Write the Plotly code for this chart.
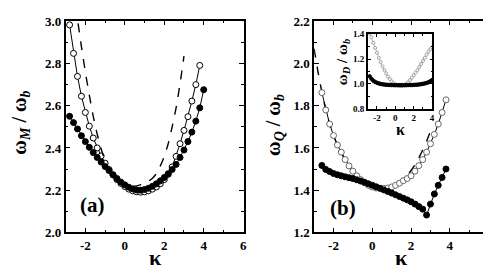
import plotly.graph_objects as go

# ---------------- data ----------------
kappa_a_open = [-2.8, -2.6, -2.4, -2.2, -2.0, -1.8, -1.6, -1.4, -1.2, -1.0, -0.8, -0.6, -0.4, -0.2,
                0.0, 0.2, 0.4, 0.6, 0.8, 1.0, 1.2, 1.4, 1.6, 1.8, 2.0, 2.2, 2.4, 2.6, 2.8, 3.0,
                3.2, 3.4, 3.6, 3.8]
omega_M_open = [2.983, 2.848, 2.739, 2.645, 2.568, 2.503, 2.447, 2.400, 2.362, 2.328, 2.298, 2.272,
                2.250, 2.232, 2.217, 2.205, 2.197, 2.192, 2.190, 2.192, 2.197, 2.205, 2.215, 2.230,
                2.250, 2.275, 2.310, 2.360, 2.420, 2.483, 2.548, 2.622, 2.700, 2.791]

kappa_a_filled = [-2.8, -2.6, -2.4, -2.2, -2.0, -1.8, -1.6, -1.4, -1.2, -1.0, -0.8, -0.6, -0.4, -0.2,
                  0.0, 0.2, 0.4, 0.6, 0.8, 1.0, 1.2, 1.4, 1.6, 1.8, 2.0, 2.2, 2.4, 2.6, 2.8, 3.0,
                  3.2, 3.4, 3.6, 3.8, 4.0]
omega_M_filled = [2.550, 2.520, 2.490, 2.458, 2.430, 2.403, 2.378, 2.355, 2.333, 2.312, 2.293, 2.273,
                  2.255, 2.238, 2.225, 2.214, 2.206, 2.201, 2.200, 2.203, 2.209, 2.218, 2.230, 2.244,
                  2.260, 2.278, 2.298, 2.322, 2.355, 2.390, 2.430, 2.475, 2.527, 2.590, 2.676]

kappa_a_dash = [-2.37, -2.2, -2.0, -1.8, -1.6, -1.4, -1.2, -1.0, -0.8, -0.6, -0.4, -0.2, 0.0, 0.2,
                0.4, 0.6, 0.8, 1.0, 1.2, 1.4, 1.6, 1.8, 2.0, 2.2, 2.4, 2.6, 2.8, 3.0]
omega_M_dash = [2.99, 2.88, 2.76, 2.65, 2.55, 2.465, 2.395, 2.34, 2.30, 2.27, 2.25, 2.235, 2.225, 2.22,
                2.218, 2.22, 2.226, 2.233, 2.242, 2.256, 2.278, 2.315, 2.36, 2.42, 2.50, 2.59, 2.705, 2.835]

kappa_b = [-2.6, -2.4, -2.2, -2.0, -1.8, -1.6, -1.4, -1.2, -1.0, -0.8, -0.6, -0.4, -0.2, 0.0,
           0.2, 0.4, 0.6, 0.8, 1.0, 1.2, 1.4, 1.6, 1.8, 2.0, 2.2, 2.4, 2.6, 2.8, 3.0, 3.2,
           3.4, 3.6, 3.8]
omega_Q_open = [1.862, 1.780, 1.713, 1.659, 1.614, 1.580, 1.545, 1.515, 1.490, 1.468, 1.450, 1.435,
                1.423, 1.415, 1.410, 1.408, 1.408, 1.410, 1.415, 1.423, 1.433, 1.445, 1.455, 1.468,
                1.490, 1.516, 1.545, 1.580, 1.620, 1.664, 1.713, 1.768, 1.828]
omega_Q_filled = [1.517, 1.498, 1.488, 1.479, 1.473, 1.468, 1.463, 1.459, 1.455, 1.449, 1.443, 1.437,
                  1.430, 1.423, 1.416, 1.409, 1.401, 1.394, 1.386, 1.378, 1.370, 1.362, 1.354, 1.345,
                  1.334, 1.322, 1.310, 1.282, 1.334, 1.382, 1.423, 1.460, 1.500]

kappa_b_dash = [-3.0, -2.8, -2.6, -2.4, -2.2, -2.0, -1.8, -1.6, -1.4, -1.2, -1.0, -0.8, -0.6, -0.4,
                -0.2, 0.0, 0.2, 0.4, 0.6, 0.8, 1.0, 1.2, 1.4, 1.6, 1.8, 2.0, 2.2, 2.4, 2.6, 2.8,
                3.0, 3.1]
omega_Q_dash = [2.07, 1.96, 1.865, 1.782, 1.714, 1.66, 1.614, 1.578, 1.543, 1.513, 1.487, 1.465,
                1.446, 1.431, 1.42, 1.412, 1.407, 1.405, 1.406, 1.41, 1.417, 1.425, 1.437, 1.452,
                1.47, 1.493, 1.52, 1.553, 1.59, 1.632, 1.68, 1.705]

kappa_inset = [-2.8, -2.6, -2.4, -2.2, -2.0, -1.8, -1.6, -1.4, -1.2, -1.0, -0.8, -0.6, -0.4, -0.2,
               0.0, 0.2, 0.4, 0.6, 0.8, 1.0, 1.2, 1.4, 1.6, 1.8, 2.0, 2.2, 2.4, 2.6, 2.8, 3.0,
               3.2, 3.4, 3.6, 3.8, 4.0]
omega_D_open = [1.405, 1.375, 1.33, 1.29, 1.25, 1.21, 1.175, 1.14, 1.11, 1.083, 1.058, 1.038,
                1.02, 1.006, 0.996, 0.99, 0.986, 0.984, 0.985, 0.99, 1.0, 1.013, 1.03, 1.05,
                1.07, 1.09, 1.11, 1.135, 1.16, 1.185, 1.21, 1.235, 1.26, 1.28, 1.295]
omega_D_filled = [1.06, 1.04, 1.025, 1.015, 1.008, 1.003, 0.999, 0.996, 0.994, 0.992, 0.991, 0.99,
                  0.99, 0.989, 0.989, 0.989, 0.989, 0.989, 0.989, 0.989, 0.989, 0.99, 0.99, 0.99,
                  0.991, 0.992, 0.993, 0.995, 0.997, 1.0, 1.003, 1.007, 1.012, 1.02, 1.03]

x_ticks = [-2, 0, 2, 4, 6]
inset_x_ticks = [-2, 0, 2, 4]

# ---------------- figure ----------------
FONT = "Liberation Serif"
fig = go.Figure()

def line_trace(x, y, xa, ya, dash=None, width=1.2):
    return go.Scatter(x=x, y=y, xaxis=xa, yaxis=ya, mode="lines",
                      line=dict(color="black", width=width, dash=dash, shape="spline", smoothing=0.6),
                      hoverinfo="skip")

def marker_trace(x, y, xa, ya, filled, size=6, edge="black", lw=1.0, lcolor="black"):
    return go.Scatter(x=x, y=y, xaxis=xa, yaxis=ya, mode="lines+markers",
                      line=dict(color=lcolor, width=lw),
                      marker=dict(symbol="circle", size=size,
                                  color="black" if filled else "white",
                                  line=dict(color=edge, width=1)),
                      hoverinfo="skip")

# panel (a)
fig.add_trace(marker_trace(kappa_a_open, omega_M_open, "x", "y", False))
fig.add_trace(marker_trace(kappa_a_filled, omega_M_filled, "x", "y", True))
fig.add_trace(line_trace(kappa_a_dash, omega_M_dash, "x", "y", dash="dash", width=1.4))

# panel (b)
fig.add_trace(line_trace(kappa_b_dash, omega_Q_dash, "x2", "y2", dash="dash", width=1.4))
fig.add_trace(marker_trace(kappa_b, omega_Q_open, "x2", "y2", False, edge="#666666"))
fig.add_trace(marker_trace(kappa_b, omega_Q_filled, "x2", "y2", True))

# inset
fig.add_trace(marker_trace(kappa_inset, omega_D_open, "x3", "y3", False, size=3, edge="#a0a0a0",
                           lw=0.8, lcolor="#a0a0a0"))
fig.add_trace(marker_trace(kappa_inset, omega_D_filled, "x3", "y3", True, size=3.5, lw=0.8))

W, H = 491, 273
def px(x):
    return x / W
def py(y):
    return 1 - y / H

def axis(domain, rng, dtick, minor_dtick, anchor, fmt=None, fsize=13, ticklen=5, mlen=3,
         tickvals=None):
    d = dict(domain=domain, range=rng, anchor=anchor, showline=True, linecolor="black",
             linewidth=1.5, mirror="allticks", ticks="inside", ticklen=ticklen, tickwidth=1.2,
             tickcolor="black", showgrid=False, zeroline=False,
             tickfont=dict(family=FONT, size=fsize, color="black", weight="bold"),
             minor=dict(ticks="inside", ticklen=mlen, tickwidth=1, tickcolor="black",
                        dtick=minor_dtick, showgrid=False),
             fixedrange=True)
    if tickvals is not None:
        d["tickmode"] = "array"
        d["tickvals"] = tickvals
        d["ticktext"] = [str(v) for v in tickvals]
    else:
        d["dtick"] = dtick
        d["tick0"] = 0
    if fmt:
        d["tickformat"] = fmt
    return d

ydom = [py(230), py(6)]
fig.update_layout(
    width=W, height=H,
    margin=dict(l=0, r=0, t=0, b=0),
    paper_bgcolor="white", plot_bgcolor="white",
    showlegend=False,
    xaxis=axis([px(58), px(237)], [-3, 6.02], 2, 1, "y", tickvals=x_ticks),
    yaxis=axis(ydom, [2.0, 3.003], 0.2, 0.1, "x", fmt=".1f"),
    xaxis2=axis([px(308), px(484)], [-3, 6.02], 2, 1, "y2", tickvals=x_ticks),
    yaxis2=axis(ydom, [1.2, 2.203], 0.2, 0.1, "x2", fmt=".1f"),
    xaxis3=axis([px(362), px(427)], [-3, 4.03], 2, 1, "y3", fsize=9, ticklen=3, mlen=2,
                tickvals=inset_x_ticks),
    yaxis3=axis([py(99), py(20)], [0.8, 1.403], 0.2, 0.1, "x3", fmt=".1f", fsize=9,
                ticklen=3, mlen=2),
)

def ann(text, x, y, size, angle=0):
    fig.add_annotation(text=text, x=px(x), y=py(y), xref="paper", yref="paper",
                       showarrow=False, textangle=angle, xanchor="center", yanchor="middle",
                       font=dict(family=FONT, size=size, color="black"))

ann("<b>κ</b>", 148, 257, 22)
ann("<b>κ</b>", 396, 257, 22)
ann("<b>κ</b>", 394.5, 121, 16)
ann("<b>ω<sub><i>M</i></sub> / ω<sub><i>b</i></sub></b>", 13, 114, 20, -90)
ann("<b>ω<sub><i>Q</i></sub> / ω<sub><i>b</i></sub></b>", 268, 116, 20, -90)
ann("<b>ω<sub><i>D</i></sub> / ω<sub><i>b</i></sub></b>", 337, 50, 15, -90)
ann("<b>(a)</b>", 85, 201, 21)
ann("<b>(b)</b>", 337, 204, 21)

fig.write_html("out.html")
